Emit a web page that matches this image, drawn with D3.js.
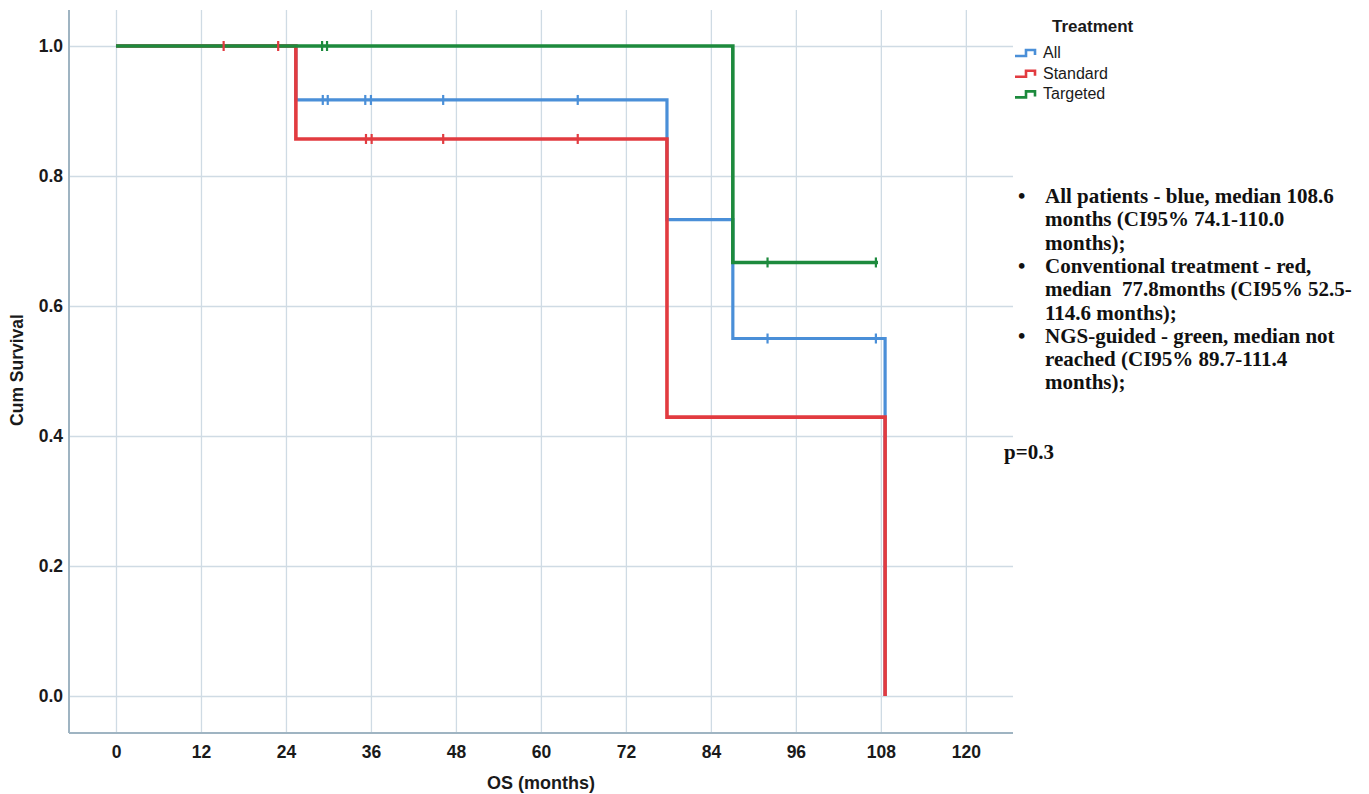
<!DOCTYPE html>
<html><head><meta charset="utf-8">
<script src="https://cdn.jsdelivr.net/npm/d3@7"></script>
<style>
body{margin:0;background:#fff;}
svg{display:block;}
.tick text{font-family:"Liberation Sans",Arial,sans-serif;font-weight:bold;font-size:17.5px;fill:#1a1a1a;}
</style></head>
<body>
<svg id="c" width="1369" height="794"></svg>
<script>
// ---- data ----
const xTicks = [0,12,24,36,48,60,72,84,96,108,120];
const yTicks = [0.0,0.2,0.4,0.6,0.8,1.0];

const allTimes = [0, 25.4, 77.8, 87.1, 108.6];
const allSurv  = [1.0, 0.917, 0.733, 0.55, 0.0];
const allEnd = 108.6;
const allCensor = [29.2, 29.9, 35.2, 36.0, 46.2, 65.2, 92.0, 107.3];

const stdTimes = [0, 25.4, 77.8, 108.6];
const stdSurv  = [1.0, 0.857, 0.429, 0.0];
const stdEnd = 108.6;
const stdCensor = [15.2, 22.9, 35.3, 36.1, 46.2, 65.2];

const tgtTimes = [0, 87.1];
const tgtSurv  = [1.0, 0.667];
const tgtEnd = 107.6;
const tgtCensor = [29.1, 29.8, 92.0, 107.3];

const legendTitle = "Treatment";
const legendLabels = ["All","Standard","Targeted"];
const colors = ["#4a8fd8","#e23b40","#1d8a3d"];

const noteLines = [
  {b:true,  t:"All patients - blue, median 108.6"},
  {b:false, t:"months (CI95% 74.1-110.0"},
  {b:false, t:"months);"},
  {b:true,  t:"Conventional treatment - red,"},
  {b:false, t:"median  77.8months (CI95% 52.5-"},
  {b:false, t:"114.6 months);"},
  {b:true,  t:"NGS-guided - green, median not"},
  {b:false, t:"reached (CI95% 89.7-111.4"},
  {b:false, t:"months);"}
];
const pText = "p=0.3";

// ---- layout ----
const L = 69, R = 1013, T = 10, B = 733;
const x = d3.scaleLinear().domain([-6.635, 126.66]).range([L, R]);
const y = d3.scaleLinear().domain([-0.0569, 1.0554]).range([B, T]);

const svg = d3.select("#c");
const sans = "Liberation Sans,Arial,sans-serif";

// gridlines
svg.append("g").attr("transform",`translate(0,${T})`)
  .call(d3.axisBottom(x).tickValues(xTicks).tickSize(B-T).tickFormat(""))
  .call(g=>g.select(".domain").remove())
  .call(g=>g.selectAll("line").attr("stroke","#cfdbe4").attr("stroke-width",1.3));
svg.append("g").attr("transform",`translate(${L},0)`)
  .call(d3.axisRight(y).tickValues(yTicks).tickSize(R-L).tickFormat(""))
  .call(g=>g.select(".domain").remove())
  .call(g=>g.selectAll("line").attr("stroke","#cfdbe4").attr("stroke-width",1.3));

// tick labels
svg.append("g").attr("transform",`translate(0,${B})`)
  .call(d3.axisBottom(x).tickValues(xTicks).tickSize(0).tickPadding(13).tickFormat(d3.format("d")))
  .call(g=>g.select(".domain").remove());
svg.append("g").attr("transform",`translate(${L},0)`)
  .call(d3.axisLeft(y).tickValues(yTicks).tickSize(0).tickPadding(6).tickFormat(d3.format(".1f")))
  .call(g=>g.select(".domain").remove());

// axis lines
svg.append("line").attr("x1",L).attr("x2",L).attr("y1",T).attr("y2",B).attr("stroke","#9fb4c2").attr("stroke-width",2);
svg.append("line").attr("x1",L).attr("x2",R).attr("y1",B).attr("y2",B).attr("stroke","#9fb4c2").attr("stroke-width",2);

svg.append("text").attr("transform",`translate(23,370) rotate(-90)`)
  .attr("text-anchor","middle").style("font-family",sans)
  .style("font-weight","bold").style("font-size","17.5px").attr("fill","#1a1a1a").text("Cum Survival");
svg.append("text").attr("x",x(60)).attr("y",789).attr("text-anchor","middle")
  .style("font-family",sans).style("font-weight","bold")
  .style("font-size","18px").attr("fill","#1a1a1a").text("OS (months)");

// curves
function stepPts(times, surv, end){
  const pts = [];
  for(let i=0;i<times.length;i++){
    if(i>0) pts.push([times[i], surv[i-1]]);
    pts.push([times[i], surv[i]]);
  }
  const last = times[times.length-1];
  if(end > last) pts.push([end, surv[surv.length-1]]);
  return pts;
}
function survAt(times, surv, t){
  let s = surv[0];
  for(let i=0;i<times.length;i++){ if(times[i] <= t) s = surv[i]; }
  return s;
}
const series = [
  {times:allTimes, surv:allSurv, end:allEnd, cens:allCensor, c:colors[0], w:3.2},
  {times:stdTimes, surv:stdSurv, end:stdEnd, cens:stdCensor, c:colors[1], w:3.6},
  {times:tgtTimes, surv:tgtSurv, end:tgtEnd, cens:tgtCensor, c:colors[2], w:3.6}
];
const line = d3.line().x(d=>x(d[0])).y(d=>y(d[1]));
series.forEach(s=>{
  svg.append("path").attr("d", line(stepPts(s.times,s.surv,s.end)))
    .attr("fill","none").attr("stroke",s.c).attr("stroke-width",s.w).attr("stroke-linejoin","miter");
});
series.forEach(s=>{
  svg.append("g").selectAll("line").data(s.cens).join("line")
    .attr("x1",d=>x(d)).attr("x2",d=>x(d))
    .attr("y1",d=>y(survAt(s.times,s.surv,d))-5)
    .attr("y2",d=>y(survAt(s.times,s.surv,d))+5)
    .attr("stroke",s.c).attr("stroke-width",2.2);
});

// legend
svg.append("text").attr("x",1052).attr("y",32)
  .style("font-family",sans).style("font-weight","bold")
  .style("font-size","17px").attr("fill","#1a1a1a").text(legendTitle);
legendLabels.forEach((lab,i)=>{
  const yy = 58 + i*20.7;
  svg.append("path").attr("d",`M1015,${yy-2}H1026V${yy-8}H1035V${yy-3}`)
    .attr("fill","none").attr("stroke",colors[i]).attr("stroke-width",2.6);
  svg.append("text").attr("x",1043).attr("y",yy)
    .style("font-family",sans)
    .style("font-size","16px").attr("fill","#1a1a1a").text(lab);
});

// notes
const nf = "Liberation Serif,'Times New Roman',serif";
noteLines.forEach((l,i)=>{
  const yy = 203 + i*23.3;
  if(l.b) svg.append("text").attr("x",1018).attr("y",yy).style("font-family",nf)
      .style("font-weight","bold").style("font-size","21px").attr("fill","#111").text("•");
  svg.append("text").attr("x",1045).attr("y",yy).style("font-family",nf)
    .style("font-weight","bold").style("font-size","21px").style("white-space","pre")
    .attr("fill","#111").text(l.t);
});
svg.append("text").attr("x",1004).attr("y",459).style("font-family",nf)
  .style("font-weight","bold").style("font-size","21px").attr("fill","#111").text(pText);
</script>
</body></html>
